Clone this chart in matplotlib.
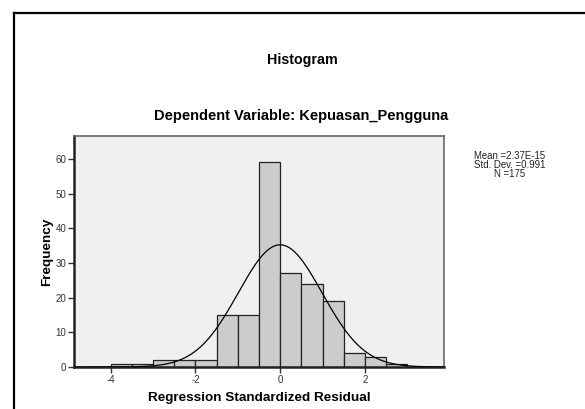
import matplotlib.pyplot as plt
import numpy as np
from matplotlib.lines import Line2D

plt.rcParams["font.family"] = ["Liberation Sans", "DejaVu Sans"]
plt.rcParams["axes.unicode_minus"] = False

# histogram bins of the standardized residuals (width 0.5)
bin_edges = [-4.0, -3.5, -3.0, -2.5, -2.0, -1.5, -1.0, -0.5, 0.0, 0.5, 1.0, 1.5, 2.0, 2.5, 3.0]
counts = [1, 1, 2, 2, 2, 15, 15, 59, 27, 24, 19, 4, 3, 1]
x_ticks = [-4, -2, 0, 2]
y_ticks = [0, 10, 20, 30, 40, 50, 60]

mean = 2.37e-15
std_dev = 0.991
n_obs = 175

fig = plt.figure(figsize=(5.85, 4.09), dpi=100)
fig.patch.set_facecolor("white")

# outer frame (left and top only visible)
fig.add_artist(Line2D([14 / 585, 14 / 585], [0, 1 - 13 / 409], color="black", lw=1.6,
                      transform=fig.transFigure))
fig.add_artist(Line2D([14 / 585, 1], [1 - 13 / 409, 1 - 13 / 409], color="black", lw=1.6,
                      transform=fig.transFigure))

ax = fig.add_axes([74 / 585, 42 / 409, 370 / 585, 231 / 409])
ax.set_facecolor("#f0f0f0")

widths = np.diff(bin_edges)
ax.bar(bin_edges[:-1], counts, width=widths, align="edge",
       color="#cccccc", edgecolor="#222222", linewidth=0.9, zorder=2)

# fitted normal curve
xs = np.linspace(-4.87, 3.87, 400)
bw = widths[0]
ys = n_obs * bw / (std_dev * np.sqrt(2 * np.pi)) * np.exp(-0.5 * ((xs - mean) / std_dev) ** 2)
ax.plot(xs, ys, color="black", lw=0.9, zorder=3)

ax.set_xlim(-4.87, 3.87)
ax.set_ylim(0, 66.6)
ax.set_xticks(x_ticks)
ax.set_yticks(y_ticks)
ax.tick_params(axis="both", direction="out", length=4, width=1, labelsize=7,
               colors="#333333", pad=1.5)
ax.tick_params(axis="both", labelcolor="#333333")

for side in ("left", "bottom"):
    ax.spines[side].set_color("#222222")
    ax.spines[side].set_linewidth(1.8)
for side in ("top", "right"):
    ax.spines[side].set_color("#666666")
    ax.spines[side].set_linewidth(1.2)

ax.set_xlabel("Regression Standardized Residual", fontsize=9.7, fontweight="bold", labelpad=5)
ax.set_ylabel("Frequency", fontsize=9.7, fontweight="bold", labelpad=2)

fig.text(302 / 585, 1 - 60 / 409, "Histogram", ha="center", va="center",
         fontsize=10.3, fontweight="bold")
fig.text(301 / 585, 1 - 116 / 409, "Dependent Variable: Kepuasan_Pengguna", ha="center",
         va="center", fontsize=10.5, fontweight="bold")

stats = "Mean =2.37E-15\nStd. Dev. =0.991\nN =175"
fig.text(510 / 585, 1 - 151 / 409, stats, ha="center", va="top", fontsize=6.9,
         linespacing=0.85, color="#222222")

fig.savefig("out.png", dpi=100)
